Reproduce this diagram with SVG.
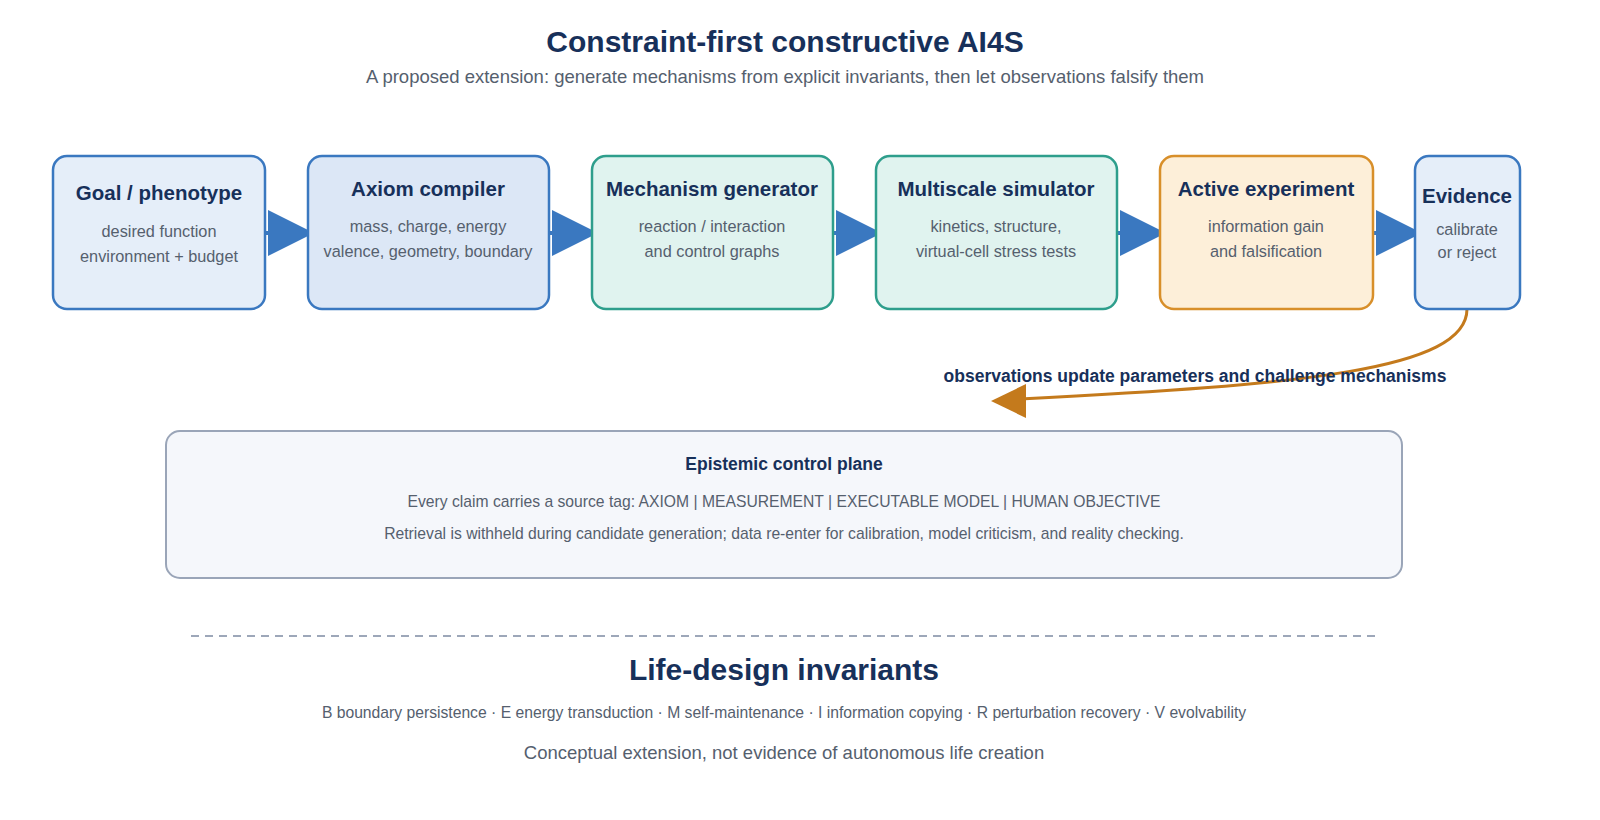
<svg xmlns="http://www.w3.org/2000/svg" width="1600" height="820" viewBox="0 0 1600 820">
<style>
text{font-family:"Liberation Sans",Arial,sans-serif;text-anchor:middle}
.t{font-weight:bold;font-size:20.5px;fill:#17305a}
.s{font-size:16.3px;fill:#55606e}
.s2{font-size:15.7px;fill:#55606e}
.blue{fill:#e5eef9;stroke:#3a78c0;stroke-width:2.5}
.blue2{fill:#dce7f6;stroke:#3a78c0;stroke-width:2.5}
.teal{fill:#e0f3ef;stroke:#2e9e8c;stroke-width:2.5}
.orange{fill:#fdefd9;stroke:#d88f2a;stroke-width:2.5}
.conn{stroke:#3a78c0;stroke-width:4;fill:none}
</style>
<rect width="1600" height="820" fill="#fff"/>
<text x="785" y="52" style="font-size:30px;font-weight:bold;fill:#17305a">Constraint-first constructive AI4S</text>
<text x="785" y="83" style="font-size:18.5px;fill:#55606e">A proposed extension: generate mechanisms from explicit invariants, then let observations falsify them</text>
<g id="connectors">
<line class="conn" x1="265" y1="233" x2="280" y2="233"/>
<polygon points="268,210 314,233 268,256" fill="#3a78c0"/>
<line class="conn" x1="549" y1="233" x2="564" y2="233"/>
<polygon points="552,210 598,233 552,256" fill="#3a78c0"/>
<line class="conn" x1="833" y1="233" x2="848" y2="233"/>
<polygon points="836,210 882,233 836,256" fill="#3a78c0"/>
<line class="conn" x1="1117" y1="233" x2="1132" y2="233"/>
<polygon points="1120,210 1166,233 1120,256" fill="#3a78c0"/>
<line class="conn" x1="1373" y1="233" x2="1388" y2="233"/>
<polygon points="1376,210 1422,233 1376,256" fill="#3a78c0"/>
<path d="M1467,309 C1467,370 1300,385 1020,399" stroke="#c47a1c" stroke-width="3" fill="none"/>
<polygon points="991,401 1026,384 1026,418" fill="#c47a1c"/>
<text x="1195" y="382" style="font-size:17.5px;font-weight:bold;fill:#17305a">observations update parameters and challenge mechanisms</text>
</g>
<g id="goal"><rect class="blue" x="53" y="156" width="212" height="153" rx="14"/>
<text class="t" x="159" y="200">Goal / phenotype</text><text class="s" x="159" y="237">desired function</text><text class="s" x="159" y="262">environment + budget</text></g>
<g id="axiom"><rect class="blue2" x="308" y="156" width="241" height="153" rx="14"/>
<text class="t" x="428" y="196">Axiom compiler</text><text class="s" x="428" y="232">mass, charge, energy</text><text class="s" x="428" y="257">valence, geometry, boundary</text></g>
<g id="mechanism"><rect class="teal" x="592" y="156" width="241" height="153" rx="14"/>
<text class="t" x="712" y="196">Mechanism generator</text><text class="s" x="712" y="232">reaction / interaction</text><text class="s" x="712" y="257">and control graphs</text></g>
<g id="simulator"><rect class="teal" x="876" y="156" width="241" height="153" rx="14"/>
<text class="t" x="996" y="196">Multiscale simulator</text><text class="s" x="996" y="232">kinetics, structure,</text><text class="s" x="996" y="257">virtual-cell stress tests</text></g>
<g id="experiment"><rect class="orange" x="1160" y="156" width="213" height="153" rx="14"/>
<text class="t" x="1266" y="196">Active experiment</text><text class="s" x="1266" y="232">information gain</text><text class="s" x="1266" y="257">and falsification</text></g>
<g id="evidence"><rect class="blue" x="1415" y="156" width="105" height="153" rx="14"/>
<text class="t" x="1467" y="203">Evidence</text><text class="s" x="1467" y="235">calibrate</text><text class="s" x="1467" y="258">or reject</text></g>
<g id="control-plane"><rect x="166" y="431" width="1236" height="147" rx="14" fill="#f5f7fb" stroke="#9aa5b8" stroke-width="2"/>
<text x="784" y="470" style="font-size:17.5px;font-weight:bold;fill:#17305a">Epistemic control plane</text>
<text class="s2" x="784" y="507">Every claim carries a source tag: AXIOM | MEASUREMENT | EXECUTABLE MODEL | HUMAN OBJECTIVE</text>
<text class="s2" x="784" y="539">Retrieval is withheld during candidate generation; data re-enter for calibration, model criticism, and reality checking.</text></g>
<line x1="191" y1="636" x2="1378" y2="636" stroke="#7d8aa3" stroke-width="1.5" stroke-dasharray="8,6"/>
<text x="784" y="680" style="font-size:30px;font-weight:bold;fill:#17305a">Life-design invariants</text>
<text class="s2" x="784" y="718">B boundary persistence · E energy transduction · M self-maintenance · I information copying · R perturbation recovery · V evolvability</text>
<text x="784" y="759" style="font-size:18.5px;fill:#55606e">Conceptual extension, not evidence of autonomous life creation</text>
</svg>
